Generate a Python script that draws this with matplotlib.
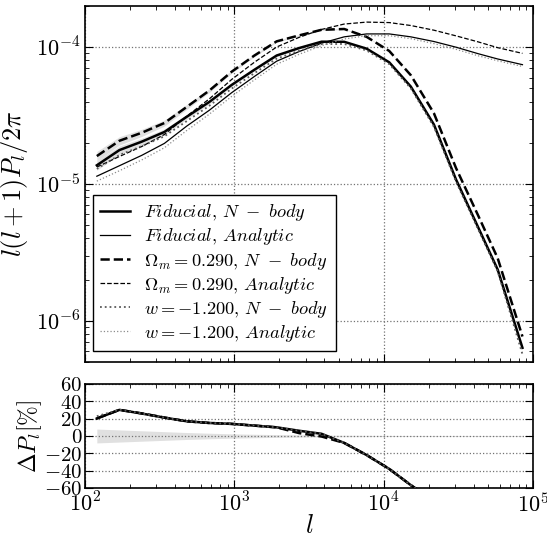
import numpy as np
import matplotlib
matplotlib.use('Agg')
import matplotlib.pyplot as plt
from matplotlib.ticker import FuncFormatter

# multipole bins
ell = np.array([120, 170, 240, 340, 480, 680, 960, 1360, 1920, 2720, 3840,
                5440, 7690, 10900, 15200, 21700, 30500, 43100, 58000, 85000])

# l(l+1)P_l/2pi in units of 1e-5
fid_nbody = np.array([1.37, 1.77, 2.04, 2.40, 3.10, 3.98, 5.30, 6.83, 8.69, 9.86, 10.97,
                      10.95, 9.75, 7.75, 5.15, 2.72, 1.08, 0.478, 0.237, 0.0635])
fid_analytic = np.array([1.14, 1.36, 1.62, 1.98, 2.65, 3.46, 4.65, 6.10, 7.90, 9.30, 10.7,
                         11.9, 12.5, 12.5, 11.9, 11.0, 10.0, 8.95, 8.2, 7.45])
om_nbody = np.array([1.60, 2.07, 2.37, 2.79, 3.66, 4.82, 6.62, 8.68, 11.03, 12.2, 13.4,
                     13.58, 11.9, 9.38, 6.24, 3.29, 1.31, 0.583, 0.287, 0.0768])
om_analytic = np.array([1.33, 1.59, 1.88, 2.30, 3.13, 4.19, 5.81, 7.75, 10.03, 11.81, 13.48,
                        14.76, 15.25, 15.13, 14.40, 13.31, 12.1, 10.92, 9.92, 9.01])
w_nbody = np.array([1.29, 1.63, 1.89, 2.23, 2.88, 3.73, 4.98, 6.45, 8.25, 9.41, 10.53,
                    10.56, 9.46, 7.52, 5.00, 2.62, 1.04, 0.461, 0.230, 0.057])
w_analytic = np.array([1.05, 1.25, 1.50, 1.84, 2.46, 3.24, 4.37, 5.76, 7.50, 8.88, 10.27,
                       11.48, 12.13, 12.13, 11.54, 10.62, 9.65, 8.64, 7.95, 7.23])
# fractional error on the N-body spectra [%]
err_pct = np.array([8.0, 7.0, 6.0, 5.0, 4.0, 3.2, 2.5, 2.0, 1.6, 1.3, 1.0,
                    0.8, 0.7, 0.6, 0.5, 0.5, 0.5, 0.5, 0.5, 0.5])

plt.rcParams['mathtext.fontset'] = 'cm'
plt.rcParams['font.family'] = 'DejaVu Serif'

fig = plt.figure(figsize=(5.47, 5.40), dpi=100)
ax = fig.add_axes([0.1554, 0.3296, 0.8190, 0.6593])
ax2 = fig.add_axes([0.1554, 0.0963, 0.8190, 0.1926], sharex=ax)

models = [
    ('Fiducial', fid_nbody, fid_analytic, '-', 'k', 'k'),
    (r'\Omega_m=0.290', om_nbody, om_analytic, '--', 'k', 'k'),
    ('w=-1.200', w_nbody, w_analytic, ':', '0.35', '0.55'),
]

for name, nb, an, ls, c_nb, c_an in models:
    nb = nb * 1e-5
    an = an * 1e-5
    if ls != ':':
        ax.fill_between(ell, nb * (1 - err_pct / 100), nb * (1 + err_pct / 100),
                        color='0.88', lw=0, zorder=1)
    lw_nb = 1.8 if ls != ':' else 1.3
    ax.plot(ell, nb, ls=ls, color=c_nb, lw=lw_nb,
            label=r'$%s,\,N\ -\ body$' % name, zorder=3)
    ax.plot(ell, an, ls=ls, color=c_an, lw=0.9,
            label=r'$%s,\,Analytic$' % name, zorder=3)

ax2.fill_between(ell, -err_pct, err_pct, color='0.88', lw=0, zorder=1)
for name, nb, an, ls, c_nb, c_an in models:
    delta = (nb / an - 1) * 100
    ax2.plot(ell, delta, ls=ls, color=c_nb, lw=1.8 if ls != ':' else 1.3, zorder=3)

ax.set_xscale('log')
ax.set_yscale('log')
ax.set_xlim(100, 1e5)
ax.set_ylim(5e-7, 2e-4)
ax2.set_ylim(-60, 60)
ax2.set_yticks(np.arange(-60, 61, 20))

pow_fmt = FuncFormatter(lambda v, p: r'$10^{%d}$' % round(np.log10(v)))
ax.yaxis.set_major_formatter(pow_fmt)
ax2.xaxis.set_major_formatter(pow_fmt)
ax2.yaxis.set_major_formatter(FuncFormatter(lambda v, p: r'$%d$' % v))
plt.setp(ax.get_xticklabels(), visible=False)

for a in (ax, ax2):
    a.grid(True, which='major', ls=':', color='0.45', lw=0.9)
    a.tick_params(which='both', direction='in', top=True, right=True, labelsize=16)
    a.tick_params(which='major', length=6)
    a.tick_params(which='minor', length=3)
    for s in a.spines.values():
        s.set_linewidth(1.2)
ax2.tick_params(axis='y', labelsize=15, pad=2)

ax.set_ylabel(r'$l(l+1)P_l/2\pi$', fontsize=19, labelpad=4)
ax2.set_ylabel(r'$\Delta P_l[\%]$', fontsize=17, labelpad=0)
ax2.set_xlabel(r'$l$', fontsize=19, labelpad=-3)

leg = ax.legend(loc='lower left', fontsize=13.2, handlelength=1.6, labelspacing=0.17,
                fancybox=False, framealpha=1, edgecolor='k',
                bbox_to_anchor=(0.01, 0.02), borderaxespad=0.2)
leg.get_frame().set_linewidth(1.0)

fig.savefig('out.png', dpi=100)
